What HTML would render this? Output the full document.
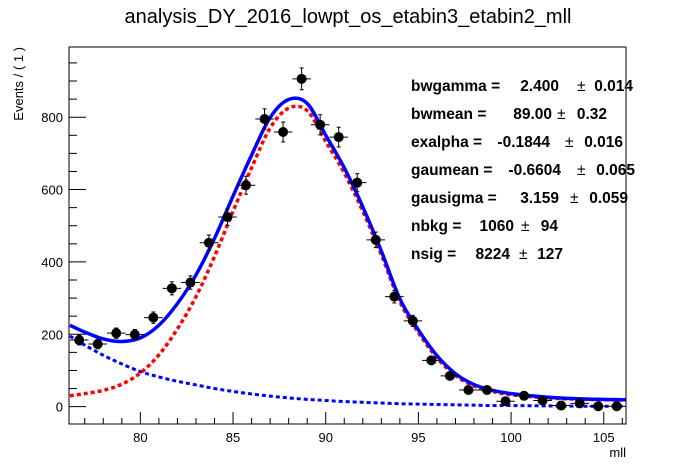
<!DOCTYPE html>
<html><head><meta charset="utf-8"><style>
body{margin:0;background:#fff}
svg{display:block;font-family:"Liberation Sans",Arial,sans-serif}
</style></head><body>
<svg id="c" width="696" height="472" viewBox="0 0 696 472">
<rect width="696" height="472" fill="#fff"/>
<text x="348" y="23" font-size="20" text-anchor="middle">analysis_DY_2016_lowpt_os_etabin3_etabin2_mll</text>
<text transform="translate(23,47) rotate(-90)" font-size="13" text-anchor="end">Events / ( 1 )</text>
<text x="626" y="457" font-size="13" text-anchor="end">mll</text>
<g id="axes"></g>
<g id="curves"></g>
<g id="points"></g>
<rect x="69" y="47" width="557" height="377" fill="none" stroke="#000" stroke-width="1"/>
<g font-size="15.5" font-weight="bold">
<text x="411" y="91">bwgamma =</text><text x="559" y="91" text-anchor="end">2.400</text><text x="577" y="91" font-weight="normal">±</text><text x="633" y="91" text-anchor="end">0.014</text>
<text x="411" y="119">bwmean =</text><text x="552" y="119" text-anchor="end">89.00</text><text x="557" y="119" font-weight="normal">±</text><text x="607" y="119" text-anchor="end">0.32</text>
<text x="411" y="147">exalpha =</text><text x="550" y="147" text-anchor="end">-0.1844</text><text x="565" y="147" font-weight="normal">±</text><text x="623" y="147" text-anchor="end">0.016</text>
<text x="411" y="175">gaumean =</text><text x="561" y="175" text-anchor="end">-0.6604</text><text x="577" y="175" font-weight="normal">±</text><text x="635" y="175" text-anchor="end">0.065</text>
<text x="411" y="203">gausigma =</text><text x="559" y="203" text-anchor="end">3.159</text><text x="570" y="203" font-weight="normal">±</text><text x="628" y="203" text-anchor="end">0.059</text>
<text x="411" y="231">nbkg =</text><text x="514" y="231" text-anchor="end">1060</text><text x="521" y="231" font-weight="normal">±</text><text x="558" y="231" text-anchor="end">94</text>
<text x="411" y="259">nsig =</text><text x="510" y="259" text-anchor="end">8224</text><text x="519" y="259" font-weight="normal">±</text><text x="563" y="259" text-anchor="end">127</text>
</g>
</svg>
<script>
const binCenters=[76.7,77.7,78.7,79.7,80.7,81.7,82.7,83.7,84.7,85.7,86.7,87.7,88.7,89.7,90.7,91.7,92.7,93.7,94.7,95.7,96.7,97.7,98.7,99.7,100.7,101.7,102.7,103.7,104.7,105.7];
const counts=[184,173,203,199,246,327,343,453,524,612,795,759,906,779,745,619,461,304,237,128,85,46,46,15,30,17,3,9,1,1];
const curveX=[76.2,77,78,79,80,81,82,83,84,85,86,87,88,89,90,91,92,93,94,95,96,97,98,99,100,102,104,106.2];
const sigVals=[30,36,45,62,93,143,215,304,415,540,660,770,825,818,733,646,540,420,290,205,135,86,57,42,33,24,20,18];
const bkgVals=[195,170,142,118,97,82,70,60,50,42,35,29,24,20,17,14,12,10,8,7,6,5,4,3,3,2,1,1];
const xTicks=[80,85,90,95,100,105];
const yTicks=[0,200,400,600,800];
const X0=69,X1=626,Y0=424,Y1=47,xmin=76.15,xmax=106.2,ymin=-48,ymax=994;
const sx=v=>X0+(v-xmin)/(xmax-xmin)*(X1-X0);
const sy=v=>Y0-(v-ymin)/(ymax-ymin)*(Y0-Y1);
const NS="http://www.w3.org/2000/svg";
function mk(t,a,p){const e=document.createElementNS(NS,t);for(const k in a)e.setAttribute(k,a[k]);p.appendChild(e);return e;}
const axes=document.getElementById('axes');
for(let v=77;v<=106;v++){const l=mk('line',{x1:sx(v),x2:sx(v),y1:Y0,y2:Y0-(v%5==0?12:6),stroke:'#000'},axes);

}
xTicks.forEach(v=>{const t=mk('text',{x:sx(v),y:442,'font-size':13,'text-anchor':'middle'},axes);t.textContent=v;

});
for(let v=0;v<=950;v+=50){const l=mk('line',{x1:X0,x2:X0+(v%200==0?17:8),y1:sy(v),y2:sy(v),stroke:'#000'},axes);

}
yTicks.forEach(v=>{const t=mk('text',{x:63,y:sy(v)+5,'font-size':13,'text-anchor':'end'},axes);t.textContent=v;

});
function smooth(xs,ys){const P=xs.map((x,i)=>[sx(x),sy(ys[i])]);let d='M'+P[0][0]+','+P[0][1];
for(let i=0;i<P.length-1;i++){const p0=P[Math.max(0,i-1)],p1=P[i],p2=P[i+1],p3=P[Math.min(P.length-1,i+2)];
d+=' C'+(p1[0]+(p2[0]-p0[0])/6)+','+(p1[1]+(p2[1]-p0[1])/6)+' '+(p2[0]-(p3[0]-p1[0])/6)+','+(p2[1]-(p3[1]-p1[1])/6)+' '+p2[0]+','+p2[1];}return d;}
const cg=document.getElementById('curves');
const totVals=sigVals.map((s,i)=>s+bkgVals[i]);
const bk=mk('path',{d:smooth(curveX,bkgVals),fill:'none',stroke:'#0000ff','stroke-width':3,'stroke-dasharray':'4 3'},cg);


const sg=mk('path',{d:smooth(curveX,sigVals),fill:'none',stroke:'#ff0000','stroke-width':3.5,'stroke-dasharray':'4 3'},cg);


const tt=mk('path',{d:smooth(curveX,totVals),fill:'none',stroke:'#0000ff','stroke-width':3.5},cg);


const pg=document.getElementById('points');
binCenters.forEach((c,i)=>{const n=counts[i],e=Math.sqrt(n);const g=mk('g',{stroke:'#000'},pg);


mk('line',{x1:sx(c-0.5),x2:sx(c+0.5),y1:sy(n),y2:sy(n)},g);
mk('line',{x1:sx(c),x2:sx(c),y1:sy(n-e),y2:sy(n+e)},g);
mk('line',{x1:sx(c)-2,x2:sx(c)+2,y1:sy(n-e),y2:sy(n-e)},g);
mk('line',{x1:sx(c)-2,x2:sx(c)+2,y1:sy(n+e),y2:sy(n+e)},g);
mk('circle',{cx:sx(c),cy:sy(n),r:5,fill:'#000',stroke:'none'},g);});
</script>
</body></html>
